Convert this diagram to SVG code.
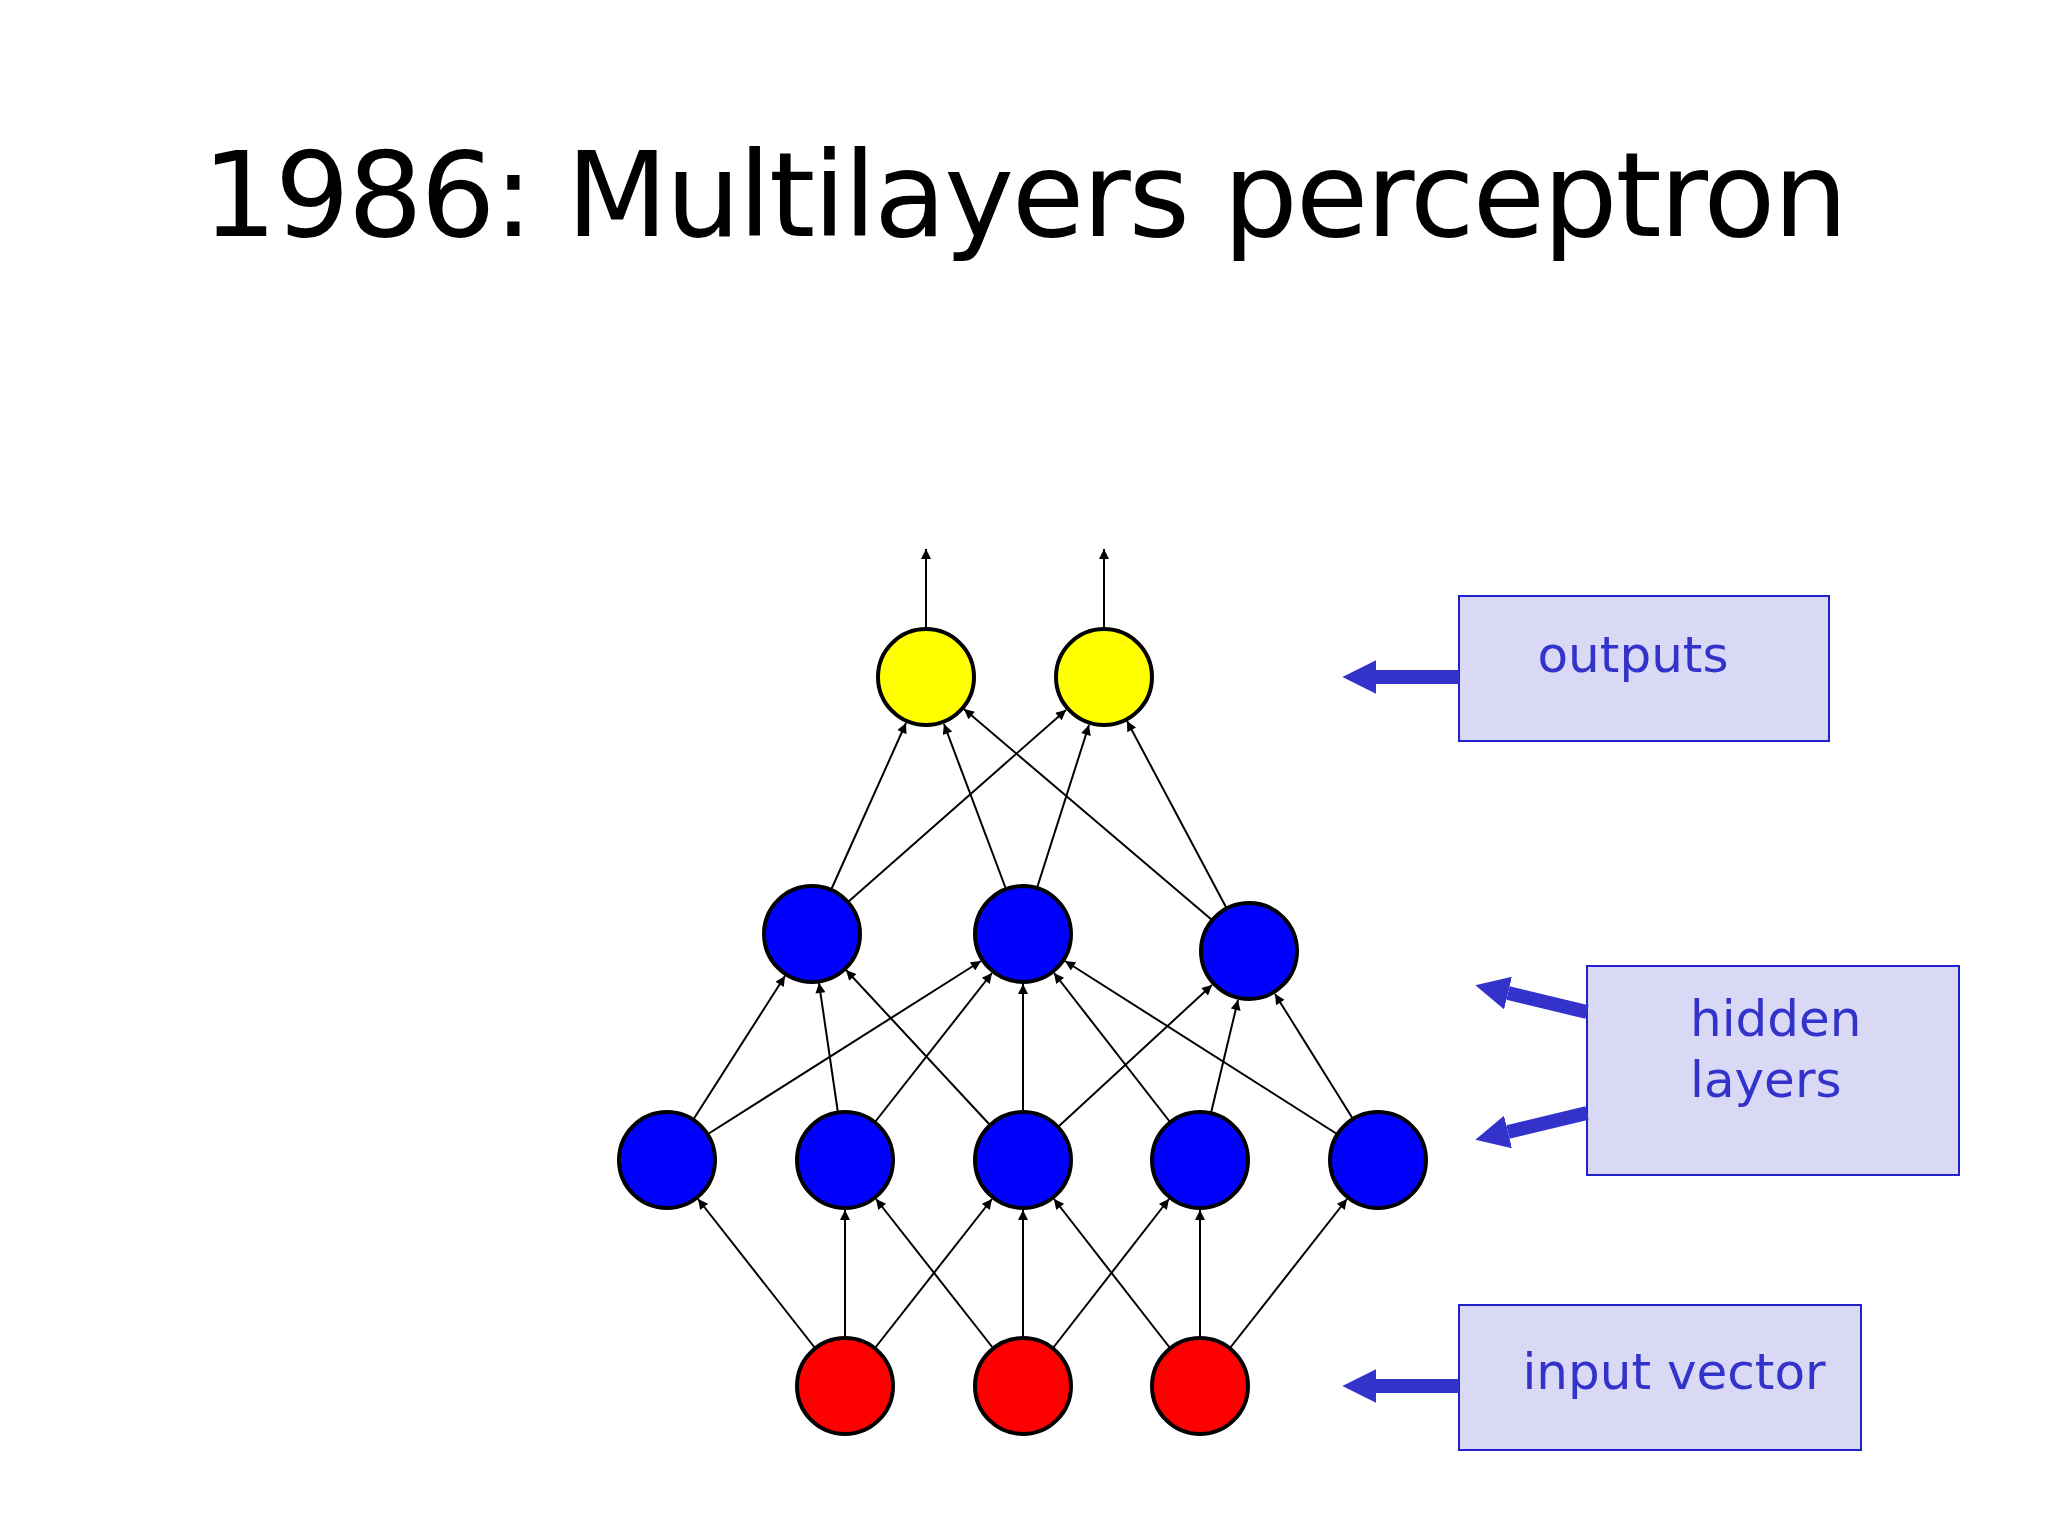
<svg xmlns="http://www.w3.org/2000/svg" width="2048" height="1536" viewBox="0 0 2048 1536">
<style>
.n{stroke:#000;stroke-width:4}
.e line{stroke:#000;stroke-width:2;marker-end:url(#a)}
.b{fill:#d9d9f5;stroke:#2222cc;stroke-width:2}
.t{font-family:"DejaVu Sans",Verdana,sans-serif;font-size:50px;fill:#3333cc}
.ba{stroke:#3333cc;stroke-width:14;marker-end:url(#h)}
</style>
<defs>
<marker id="a" viewBox="0 0 10 10" refX="10" refY="5" markerWidth="12" markerHeight="10" markerUnits="userSpaceOnUse" orient="auto"><path d="M0,0L10,5L0,10z" fill="#000"/></marker>
<marker id="h" viewBox="0 0 10 10" refX="0" refY="5" markerWidth="2.4" markerHeight="2.4" orient="auto"><path d="M0,0L10,5L0,10z" fill="#3333cc"/></marker>
</defs>
<rect width="2048" height="1536" fill="#fff"/>
<text x="1025" y="236" text-anchor="middle" font-family="DejaVu Sans,Verdana,sans-serif" font-size="118" textLength="1646" fill="#000">1986: Multilayers perceptron</text>
<g id="connectors" class="e">
<line x1="926" y1="629" x2="926" y2="549"/><line x1="1104" y1="629" x2="1104" y2="549"/>
<line x1="815" y1="1348" x2="698" y2="1199"/><line x1="845" y1="1338" x2="845" y2="1210"/><line x1="875" y1="1348" x2="992" y2="1199"/>
<line x1="993" y1="1348" x2="876" y2="1199"/><line x1="1023" y1="1338" x2="1023" y2="1210"/><line x1="1053" y1="1348" x2="1169" y2="1199"/>
<line x1="1170" y1="1348" x2="1054" y2="1199"/><line x1="1200" y1="1338" x2="1200" y2="1210"/><line x1="1230" y1="1348" x2="1347" y2="1199"/>
<line x1="693" y1="1120" x2="785" y2="976"/><line x1="708" y1="1134" x2="981" y2="961"/>
<line x1="838" y1="1113" x2="819" y2="983"/><line x1="875" y1="1122" x2="992" y2="973"/>
<line x1="990" y1="1125" x2="846" y2="970"/><line x1="1023" y1="1112" x2="1023" y2="984"/><line x1="1058" y1="1127" x2="1212" y2="985"/>
<line x1="1170" y1="1122" x2="1054" y2="973"/><line x1="1211" y1="1113" x2="1238" y2="1000"/>
<line x1="1337" y1="1134" x2="1065" y2="961"/><line x1="1353" y1="1119" x2="1275" y2="994"/>
<line x1="831" y1="890" x2="906" y2="723"/><line x1="848" y1="902" x2="1066" y2="710"/>
<line x1="1006" y1="889" x2="944" y2="724"/><line x1="1037" y1="888" x2="1089" y2="725"/>
<line x1="1212" y1="920" x2="964" y2="709"/><line x1="1227" y1="909" x2="1127" y2="721"/>
</g>
<g id="out1"><circle class="n" cx="926" cy="677" r="48" fill="#ffff00"/></g>
<g id="out2"><circle class="n" cx="1104" cy="677" r="48" fill="#ffff00"/></g>
<g id="h2a"><circle class="n" cx="812" cy="934" r="48" fill="#0000ff"/></g>
<g id="h2b"><circle class="n" cx="1023" cy="934" r="48" fill="#0000ff"/></g>
<g id="h2c"><circle class="n" cx="1249" cy="951" r="48" fill="#0000ff"/></g>
<g id="h1a"><circle class="n" cx="667" cy="1160" r="48" fill="#0000ff"/></g>
<g id="h1b"><circle class="n" cx="845" cy="1160" r="48" fill="#0000ff"/></g>
<g id="h1c"><circle class="n" cx="1023" cy="1160" r="48" fill="#0000ff"/></g>
<g id="h1d"><circle class="n" cx="1200" cy="1160" r="48" fill="#0000ff"/></g>
<g id="h1e"><circle class="n" cx="1378" cy="1160" r="48" fill="#0000ff"/></g>
<g id="in1"><circle class="n" cx="845" cy="1386" r="48" fill="#ff0000"/></g>
<g id="in2"><circle class="n" cx="1023" cy="1386" r="48" fill="#ff0000"/></g>
<g id="in3"><circle class="n" cx="1200" cy="1386" r="48" fill="#ff0000"/></g>
<g id="label-outputs"><rect class="b" x="1459" y="596" width="370" height="145"/><text class="t" x="1633" y="672" text-anchor="middle">outputs</text><line class="ba" x1="1459" y1="677" x2="1376" y2="677"/></g>
<g id="label-hidden"><rect class="b" x="1587" y="966" width="372" height="209"/><text class="t" x="1690" y="1036">hidden</text><text class="t" x="1690" y="1097">layers</text><line class="ba" x1="1587" y1="1012" x2="1508" y2="993"/><line class="ba" x1="1587" y1="1113" x2="1508" y2="1132"/></g>
<g id="label-input"><rect class="b" x="1459" y="1305" width="402" height="145"/><text class="t" x="1674" y="1389" text-anchor="middle">input vector</text><line class="ba" x1="1459" y1="1386" x2="1376" y2="1386"/></g>
</svg>
